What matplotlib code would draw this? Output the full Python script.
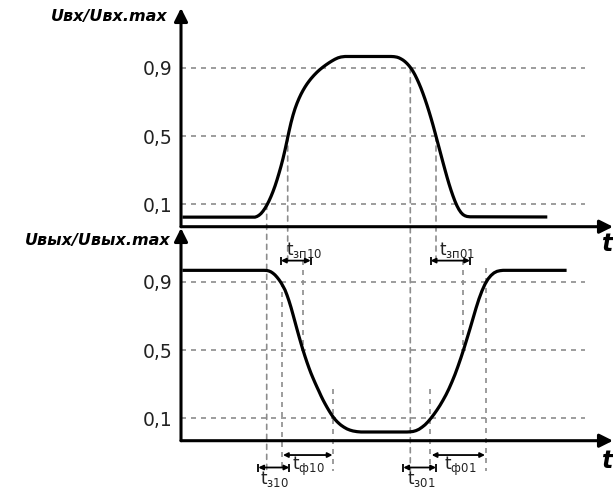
import matplotlib.pyplot as plt
from matplotlib.patches import ConnectionPatch

plt.rcParams['font.family'] = ['DejaVu Sans']
plt.rcParams['mathtext.fontset'] = 'dejavusans'

levels = [0.1, 0.5, 0.9]
level_labels = ['0,1', '0,5', '0,9']

# input pulse (time counted in px-like units from the y axis)
t_in = [3, 70, 74, 76, 78, 80, 82, 84, 86, 88, 90, 92, 94, 96, 98, 100, 102, 104, 106, 107, 108, 110,
        112, 114, 116, 118, 120, 122, 124, 126, 128, 130, 133, 136, 139, 142, 145, 148, 151, 154, 157,
        160, 164,
        210, 213, 216, 218, 220, 222, 224, 226, 228, 230, 232, 234, 236, 238, 240, 242, 244, 246, 248,
        250, 252, 254, 256, 258, 260, 262, 264, 266, 268, 270, 272, 274, 276, 278, 280, 282, 284, 286,
        289, 364.7]
u_in = [0.025, 0.025, 0.025, 0.029, 0.036, 0.046, 0.06, 0.077, 0.097, 0.12, 0.146, 0.175, 0.207, 0.243,
        0.282, 0.323, 0.368, 0.418, 0.472, 0.5, 0.527, 0.578, 0.622, 0.66, 0.692, 0.72, 0.745, 0.767,
        0.787, 0.805, 0.821, 0.836, 0.856, 0.874, 0.89, 0.904, 0.917, 0.929, 0.94, 0.95, 0.958, 0.963,
        0.966,
        0.966, 0.965, 0.962, 0.958, 0.952, 0.945, 0.936, 0.925, 0.912, 0.897, 0.879, 0.858, 0.834,
        0.808, 0.78, 0.749, 0.716, 0.681, 0.644, 0.605, 0.564, 0.521, 0.477, 0.433, 0.389, 0.345,
        0.302, 0.26, 0.22, 0.183, 0.149, 0.118, 0.091, 0.069, 0.052, 0.04, 0.033, 0.029, 0.027, 0.026]

# output pulse
t_out = [3, 83, 86, 88, 90, 92, 94, 96, 98, 100, 102, 104, 106, 108, 110, 112, 114, 116, 118, 120, 122,
         124, 126, 128, 130, 132, 134, 136, 138, 140, 142, 144, 146, 148, 150, 152, 154, 156, 158, 160,
         163, 166, 169, 172, 176, 180,
         226, 229, 232, 235, 238, 241, 244, 247, 250, 253, 256, 259, 262, 265, 268, 271, 274, 277, 280,
         283, 286, 289, 292, 295, 298, 301, 304, 307, 310, 313, 316, 319, 322, 384]
u_out = [0.967, 0.967, 0.966, 0.963, 0.958, 0.95, 0.94, 0.927, 0.912, 0.895, 0.874, 0.852, 0.822, 0.788,
         0.75, 0.708, 0.665, 0.622, 0.58, 0.539, 0.5, 0.463, 0.428, 0.395, 0.364, 0.336, 0.309, 0.283,
         0.258, 0.232, 0.208, 0.186, 0.165, 0.145, 0.126, 0.109, 0.094, 0.081, 0.07, 0.06, 0.048, 0.038,
         0.031, 0.026, 0.022, 0.02,
         0.02, 0.021, 0.023, 0.028, 0.036, 0.048, 0.062, 0.08, 0.101, 0.124, 0.149, 0.176, 0.206, 0.238,
         0.274, 0.314, 0.357, 0.405, 0.456, 0.51, 0.567, 0.625, 0.685, 0.745, 0.8, 0.847, 0.886, 0.916,
         0.937, 0.952, 0.961, 0.965, 0.967, 0.967]

# dashed verticals going from the upper panel into the lower one
cross_t = [85.7, 106.7, 229.3, 255]
cross_from = [0.1, 0.5, 0.9, 0.5]
cross_to = [-0.21, 1.0, -0.21, 1.0]

# dashed verticals in the lower panel only
low_t = [101, 122, 151.5, 249, 282.3, 305]
low_from = [0.9, 1.03, 0.27, 0.27, 1.03, 0.98]
low_to = [-0.21, 0.5, -0.21, -0.21, 0.5, -0.21]

# time intervals: subscript, start, end, y, label x, label y, short
iv_names = ['зп10', 'зп01', 'ф10', 'ф01', 'з10', 'з01']
iv_start = [100, 249.7, 102, 250.7, 77.3, 222.3]
iv_end = [129.7, 289, 151.5, 304, 108.3, 255]
iv_y = [1.024, 1.024, -0.115, -0.115, -0.188, -0.188]
iv_lx = [123, 276, 127, 279, 93, 240.7]
iv_ly = [1.085, 1.085, -0.18, -0.18, -0.255, -0.255]
iv_short = [True, True, False, False, True, True]

W, H = 613, 488
fig = plt.figure(figsize=(W / 100, H / 100), dpi=100)
ax1 = fig.add_axes([181 / W, 1 - 226.7 / H, 432 / W, 218.7 / H])
ax2 = fig.add_axes([181 / W, 1 - 440.7 / H, 432 / W, 212.7 / H])
ax1.set_ylim(-0.031, 1.25)
ax2.set_ylim(-0.031, 1.215)

grid_kw = dict(color='#8c8c8c', lw=1.2, linestyle=(0, (3, 3)))

for ax in (ax1, ax2):
    ax.set_xlim(0, 432)
    ax.patch.set_alpha(0)
    for s in ax.spines.values():
        s.set_visible(False)
    ax.set_xticks([])
    ax.set_yticks(levels, labels=level_labels)
    ax.tick_params(axis='y', length=0, pad=6, labelsize=13.5, labelcolor='#222222')
    ax.hlines(levels, 0, 404, zorder=1, **grid_kw)
    y0, y1 = ax.get_ylim()
    arr = dict(arrowstyle='-|>', lw=2.2, color='black', mutation_scale=20,
               shrinkA=0, shrinkB=0)
    ax.annotate('', xy=(0, y1), xytext=(0, y0), arrowprops=arr, annotation_clip=False)
    ax.annotate('', xy=(432, y0), xytext=(0, y0), arrowprops=arr, annotation_clip=False)

ax1.plot(t_in, u_in, color='black', lw=2.3, solid_joinstyle='round', zorder=3)
ax2.plot(t_out, u_out, color='black', lw=2.3, solid_joinstyle='round', zorder=3)

for t, a, b in zip(cross_t, cross_from, cross_to):
    cp = ConnectionPatch((t, a), (t, b), coordsA=ax1.transData, coordsB=ax2.transData, zorder=-1, **grid_kw)
    fig.add_artist(cp)

ax2.vlines(low_t, low_from, low_to, clip_on=False, zorder=1, **grid_kw)

for name, a, b, y, lx, ly, short in zip(iv_names, iv_start, iv_end, iv_y, iv_lx, iv_ly, iv_short):
    ax2.annotate('', xy=(b, y), xytext=(a, y), annotation_clip=False,
                 arrowprops=dict(arrowstyle='<|-|>', lw=1.3, color='black', mutation_scale=7,
                                 shrinkA=0, shrinkB=0))
    if short:
        ax2.plot([a, b], [y, y], '|', color='black', ms=6, mew=1.3, clip_on=False)
    ax2.text(lx, ly, r'$\mathregular{t_{%s}}$' % name, ha='center', va='center',
             fontsize=12, color='#222222')

ax1.text(-0.032, 0.959, 'Uвх/Uвх.max', transform=ax1.transAxes, ha='right', va='center',
         fontsize=11.5, fontstyle='italic', fontweight='bold')
ax2.text(-0.025, 0.94, 'Uвых/Uвых.max', transform=ax2.transAxes, ha='right', va='center',
         fontsize=11.5, fontstyle='italic', fontweight='bold')
ax1.text(0.988, -0.079, 't', transform=ax1.transAxes, ha='center', va='center',
         fontsize=17, fontstyle='italic', fontweight='bold')
ax2.text(0.988, -0.095, 't', transform=ax2.transAxes, ha='center', va='center',
         fontsize=17, fontstyle='italic', fontweight='bold')

fig.savefig('out.png', dpi=100)
